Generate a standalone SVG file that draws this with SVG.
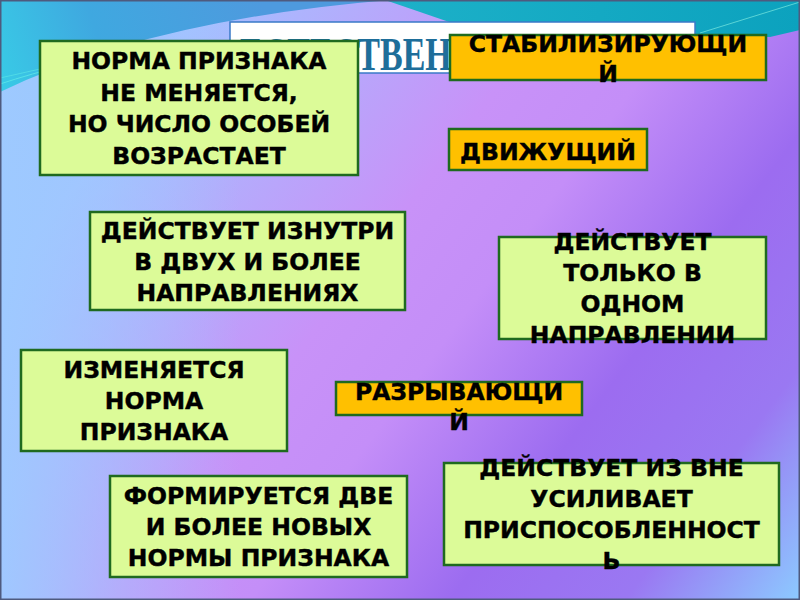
<svg xmlns="http://www.w3.org/2000/svg" width="800" height="600" viewBox="0 0 800 600">
<defs>
<linearGradient id="bg" gradientUnits="userSpaceOnUse" x1="0" y1="0" x2="800" y2="600">
<stop offset="0" stop-color="#90c0f8"/>
<stop offset="0.17" stop-color="#a4c0ff"/>
<stop offset="0.45" stop-color="#c892f8"/>
<stop offset="0.56" stop-color="#c48ef8"/>
<stop offset="0.72" stop-color="#9c6cf0"/>
<stop offset="0.86" stop-color="#9a78f2"/>
<stop offset="1" stop-color="#8ccaff"/>
</linearGradient>
<linearGradient id="leftov" gradientUnits="userSpaceOnUse" x1="0" y1="0" x2="240" y2="0">
<stop offset="0" stop-color="#9ecaff" stop-opacity="0.95"/>
<stop offset="1" stop-color="#9ecaff" stop-opacity="0"/>
</linearGradient>
<linearGradient id="blue" gradientUnits="userSpaceOnUse" x1="260" y1="0" x2="0" y2="90">
<stop offset="0" stop-color="#4e9ade"/>
<stop offset="0.6" stop-color="#3fa8e0"/>
<stop offset="1" stop-color="#38cbe6"/>
</linearGradient>
<linearGradient id="teal" gradientUnits="userSpaceOnUse" x1="400" y1="0" x2="800" y2="30">
<stop offset="0" stop-color="#1cb0c8"/>
<stop offset="1" stop-color="#0ca2be"/>
</linearGradient>
</defs>
<style>
.g{fill:#dcfb98;stroke:#1f6a1f;stroke-width:2.5}
.o{fill:#ffc000;stroke:#1f6a1f;stroke-width:2.5}
.t{font-family:"DejaVu Sans",Verdana,sans-serif;font-weight:bold;font-size:23.5px;fill:#000;stroke:#000;stroke-width:0.4;text-anchor:middle}
.title{font-family:"Liberation Serif","Times New Roman",serif;font-weight:bold;font-size:46px;fill:#1e6e9a}
</style>
<g id="background">
<rect x="0" y="0" width="800" height="600" fill="url(#bg)"/>
<rect x="0" y="0" width="240" height="600" fill="url(#leftov)"/>
<path d="M0,0 H390 Q150,20 0,92 Z" fill="url(#blue)"/>
<path d="M385,0 H800 V30 L770,37 L700,35 L455,24 Z" fill="url(#teal)"/>
<path d="M0,84 Q30,74 70,64" fill="none" stroke="#5ee8e8" stroke-width="1" opacity="0.8"/>
<path d="M0,78 Q40,70 80,58" fill="none" stroke="#5ee8e8" stroke-width="1" opacity="0.6"/>
<path d="M700,33 L800,2" fill="none" stroke="#7ae8e0" stroke-width="1" opacity="0.7"/>
<rect x="0.75" y="0.75" width="798.5" height="598.5" fill="none" stroke="#4e5a7e" stroke-width="1.5"/>
</g>
<g id="title">
<rect x="230" y="22" width="465" height="51" fill="#ffffff" stroke="#3a7ac8" stroke-width="1.5"/>
<text class="title" transform="translate(240,70) scale(0.74,1)" x="0" y="0">ЕСТЕСТВЕН</text>
</g>
<g id="connectors"></g>
<g id="n1">
<rect class="g" x="40" y="41" width="318" height="134"/>
<text class="t" x="199" y="69">НОРМА ПРИЗНАКА</text>
<text class="t" x="199" y="101">НЕ МЕНЯЕТСЯ,</text>
<text class="t" x="199" y="132">НО ЧИСЛО ОСОБЕЙ</text>
<text class="t" x="199" y="164">ВОЗРАСТАЕТ</text>
</g>
<g id="n2">
<rect class="o" x="450" y="35" width="316" height="45"/>
<text class="t" x="608" y="52">СТАБИЛИЗИРУЮЩИ</text>
<text class="t" x="608" y="82">Й</text>
</g>
<g id="n3">
<rect class="o" x="449" y="129" width="198" height="41"/>
<text class="t" x="548" y="160">ДВИЖУЩИЙ</text>
</g>
<g id="n4">
<rect class="g" x="90" y="212" width="315" height="98"/>
<text class="t" x="247.5" y="239">ДЕЙСТВУЕТ ИЗНУТРИ</text>
<text class="t" x="247.5" y="270">В ДВУХ И БОЛЕЕ</text>
<text class="t" x="247.5" y="301">НАПРАВЛЕНИЯХ</text>
</g>
<g id="n5">
<rect class="g" x="499" y="237" width="267" height="102"/>
<text class="t" x="632.5" y="250">ДЕЙСТВУЕТ</text>
<text class="t" x="632.5" y="281">ТОЛЬКО В</text>
<text class="t" x="632.5" y="312">ОДНОМ</text>
<text class="t" x="632.5" y="343">НАПРАВЛЕНИИ</text>
</g>
<g id="n6">
<rect class="g" x="21" y="350" width="266" height="101"/>
<text class="t" x="154" y="378">ИЗМЕНЯЕТСЯ</text>
<text class="t" x="154" y="409">НОРМА</text>
<text class="t" x="154" y="440">ПРИЗНАКА</text>
</g>
<g id="n7">
<rect class="o" x="336" y="382" width="246" height="33"/>
<text class="t" x="459" y="400">РАЗРЫВАЮЩИ</text>
<text class="t" x="459" y="430">Й</text>
</g>
<g id="n8">
<rect class="g" x="110" y="476" width="297" height="101"/>
<text class="t" x="258.5" y="504">ФОРМИРУЕТСЯ ДВЕ</text>
<text class="t" x="258.5" y="535">И БОЛЕЕ НОВЫХ</text>
<text class="t" x="258.5" y="566">НОРМЫ ПРИЗНАКА</text>
</g>
<g id="n9">
<rect class="g" x="444" y="463" width="335" height="102"/>
<text class="t" x="611.5" y="476">ДЕЙСТВУЕТ ИЗ ВНЕ</text>
<text class="t" x="611.5" y="507">УСИЛИВАЕТ</text>
<text class="t" x="611.5" y="538">ПРИСПОСОБЛЕННОСТ</text>
<text class="t" x="611.5" y="569">Ь</text>
</g>
</svg>
